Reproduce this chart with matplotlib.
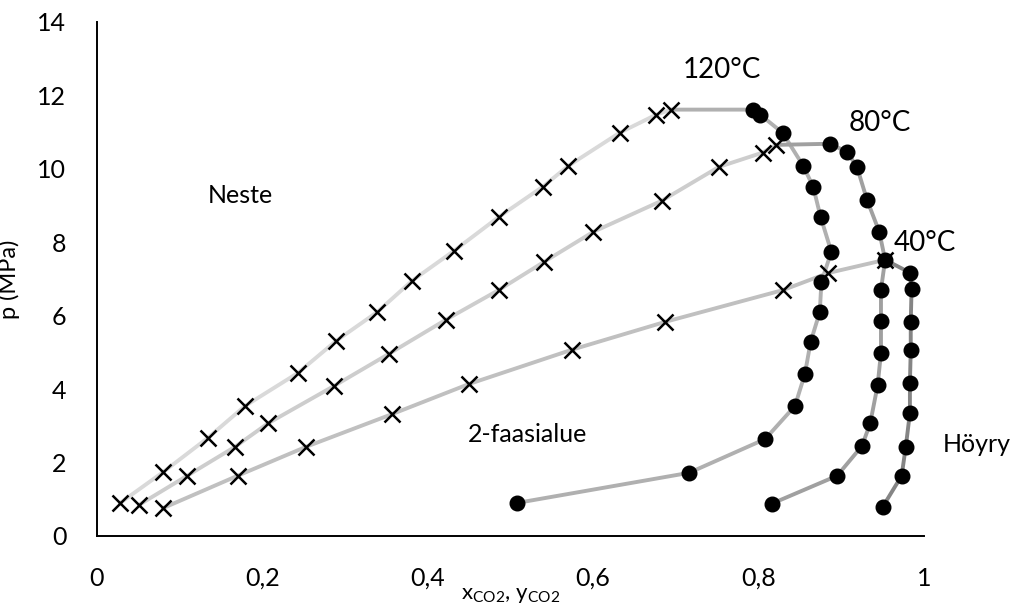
import numpy as np
import matplotlib.pyplot as plt

plt.rcParams['font.family'] = ['Lato', 'DejaVu Sans']
plt.rcParams['mathtext.fontset'] = 'custom'
plt.rcParams['mathtext.rm'] = 'Lato'
plt.rcParams['mathtext.it'] = 'Lato'

# CO2 tasapainodata, nestefaasi (x) ja höyryfaasi (y), paine MPa
x_120 = [0.028, 0.080, 0.134, 0.179, 0.243, 0.289, 0.339, 0.381, 0.432, 0.486, 0.539, 0.570, 0.632, 0.676, 0.694]
p_120 = [0.90, 1.74, 2.67, 3.54, 4.44, 5.31, 6.10, 6.95, 7.77, 8.69, 9.51, 10.08, 10.98, 11.47, 11.61]
y_120 = [0.508, 0.716, 0.808, 0.844, 0.856, 0.863, 0.874, 0.876, 0.888, 0.875, 0.866, 0.854, 0.829, 0.802, 0.793]
py_120 = [0.90, 1.72, 2.64, 3.54, 4.41, 5.29, 6.10, 6.92, 7.74, 8.69, 9.51, 10.08, 10.98, 11.47, 11.61]

x_80 = [0.051, 0.109, 0.167, 0.207, 0.287, 0.353, 0.422, 0.486, 0.541, 0.600, 0.683, 0.752, 0.805, 0.821]
p_80 = [0.85, 1.64, 2.43, 3.07, 4.09, 4.96, 5.89, 6.70, 7.47, 8.28, 9.13, 10.05, 10.44, 10.65]
y_80 = [0.816, 0.895, 0.925, 0.935, 0.944, 0.948, 0.948, 0.948, 0.953, 0.946, 0.931, 0.919, 0.907, 0.886]
py_80 = [0.88, 1.64, 2.45, 3.07, 4.11, 4.99, 5.86, 6.70, 7.52, 8.28, 9.16, 10.05, 10.46, 10.68]

x_40 = [0.080, 0.170, 0.253, 0.357, 0.450, 0.574, 0.687, 0.830, 0.884, 0.953]
p_40 = [0.76, 1.64, 2.43, 3.32, 4.14, 5.07, 5.83, 6.70, 7.16, 7.52]
y_40 = [0.950, 0.973, 0.978, 0.983, 0.983, 0.984, 0.984, 0.985, 0.983]
py_40 = [0.79, 1.64, 2.43, 3.35, 4.17, 5.06, 5.83, 6.72, 7.17]

sarjat = [
    # (x, p, y, py, nesteen väri, höyryn väri)
    (x_120, p_120, y_120, py_120, '#d9d9d9', '#b0b0b0'),
    (x_80, p_80, y_80, py_80, '#cdcdcd', '#a0a0a0'),
    (x_40, p_40, y_40, py_40, '#c0c0c0', '#858585'),
]

fig = plt.figure(figsize=(10.23, 6.07), dpi=100)
ax = fig.add_axes([0.0948, 0.117, 0.8084, 0.847])

for xs, ps, ys, pys, c_l, c_v in sarjat:
    # höyrykäyrä alkaa nestekäyrän viimeisestä pisteestä
    yv = [xs[-1]] + ys[::-1]
    pv = [ps[-1]] + pys[::-1]
    ax.plot(yv, pv, color=c_v, lw=2.8, zorder=2, solid_capstyle='round')
    ax.plot(ys, pys, ls='none', marker='o', ms=10.5, color='black', zorder=4)
    ax.plot(xs, ps, color=c_l, lw=2.8, zorder=3, solid_capstyle='round')
    ax.plot(xs, ps, ls='none', marker='x', ms=12, mew=1.8, color='black', zorder=5)

ax.set_xlim(0, 1)
ax.set_ylim(0, 14)
ax.set_xticks(np.arange(0, 1.01, 0.2))
ax.set_xticklabels(['0', '0,2', '0,4', '0,6', '0,8', '1'])
ax.set_yticks(np.arange(0, 15, 2))
ax.tick_params(axis='both', length=0, labelsize=18)
ax.tick_params(axis='y', pad=22)
ax.tick_params(axis='x', pad=22)
for s in ['top', 'right']:
    ax.spines[s].set_visible(False)
for s in ['left', 'bottom']:
    ax.spines[s].set_linewidth(1.4)

ax.set_ylabel('p (MPa)', fontsize=17)
ax.yaxis.set_label_coords(-0.093, 0.5)
ax.set_xlabel(r'x$_{\mathrm{CO2}}$, y$_{\mathrm{CO2}}$', fontsize=16, va='center')
ax.xaxis.set_label_coords(0.5, -0.115)

ax.text(0.173, 9.26, 'Neste', fontsize=18, ha='center', va='center')
ax.text(0.521, 2.75, '2-faasialue', fontsize=18, ha='center', va='center')
ax.text(1.064, 2.48, 'Höyry', fontsize=18, ha='center', va='center', clip_on=False)
ax.text(0.756, 12.70, '120°C', fontsize=20, ha='center', va='center')
ax.text(0.947, 11.25, '80°C', fontsize=20, ha='center', va='center')
ax.text(1.001, 7.98, '40°C', fontsize=20, ha='center', va='center', clip_on=False)

fig.savefig('out.png', dpi=100)
